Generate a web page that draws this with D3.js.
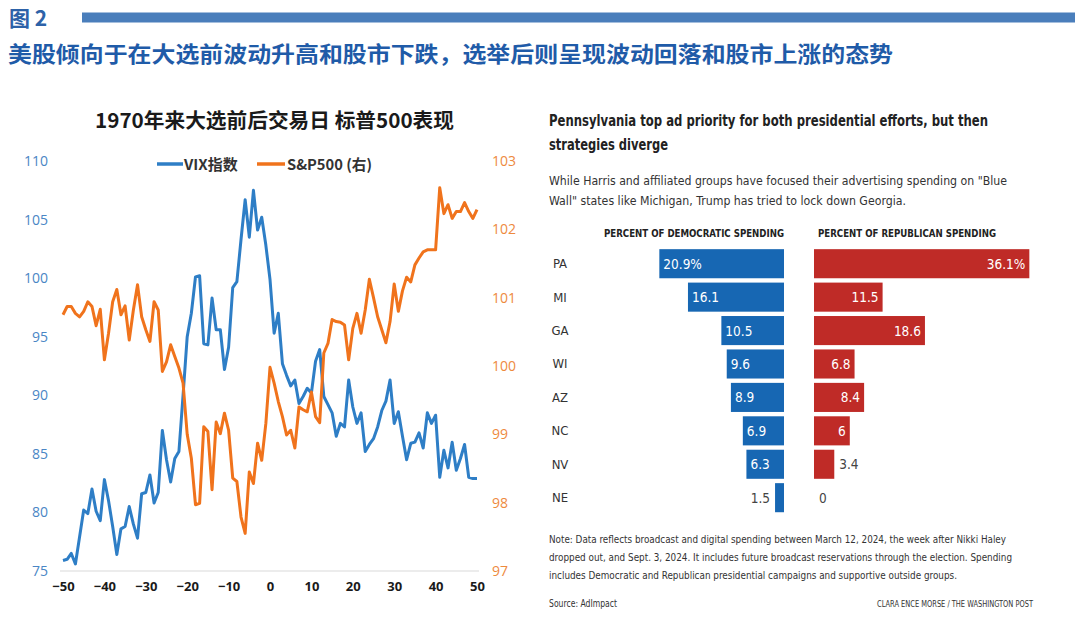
<!DOCTYPE html>
<html>
<head>
<meta charset="utf-8">
<script src="https://cdn.jsdelivr.net/npm/d3@7"></script>
<style>
  html, body { margin: 0; padding: 0; background: #fff; }
  svg { display: block; }
</style>
</head>
<body>
<script>
// ---------------- DATA ----------------
const days = d3.range(-50, 51);
const vix = [
  75.9, 76.0, 76.5, 75.6, 77.9, 80.2, 79.9, 82.0, 80.1, 79.3,
  82.8, 81.0, 78.8, 76.4, 78.6, 78.8, 80.5, 79.0, 77.8, 81.6,
  81.7, 83.2, 80.8, 81.7, 87.0, 84.5, 82.6, 84.6, 85.2, 90.0,
  95.0, 97.0, 100.1, 100.2, 94.4, 94.3, 98.3, 95.6, 95.6, 92.2,
  94.1, 99.2, 99.7, 103.3, 106.7, 103.5, 107.5, 104.1, 105.2, 102.8,
  99.9,
  95.3, 97.0, 92.7, 91.7, 90.8, 91.3, 89.3, 89.9, 90.6, 90.2,
  92.9, 93.9, 89.9, 89.2, 88.5, 86.5, 87.6, 87.3, 91.3, 89.0,
  87.6, 88.5, 85.2, 85.8, 86.3, 87.3, 88.7, 89.5, 91.3, 87.6,
  88.6, 86.5, 84.5, 85.9, 86.0, 86.8, 85.5, 88.5, 87.6, 88.3,
  83.0, 85.3, 83.8, 86.0, 83.6, 84.6, 85.8, 83.0, 82.9, 82.9
];
const spx = [
  100.75, 100.87, 100.87, 100.77, 100.72, 100.80, 100.94, 100.87, 100.59, 100.83,
  100.09, 100.48, 100.94, 101.12, 100.75, 100.88, 100.38, 100.82, 101.19, 100.72,
  100.53, 100.36, 100.94, 100.82, 99.92, 100.06, 100.31, 100.14, 99.97, 99.75,
  99.00, 98.65, 97.97, 97.99, 99.11, 99.04, 98.19, 99.18, 99.01, 99.31,
  99.06, 98.36, 98.31, 97.79, 97.55, 98.45, 98.28, 98.87, 98.62, 99.16,
  99.98,
  99.75, 99.48, 99.26, 98.99, 99.06, 98.80, 99.40, 99.36, 99.33, 99.62,
  99.26, 99.17, 100.19, 100.33, 100.68, 100.65, 100.64, 100.60, 100.09, 100.55,
  100.77, 100.48, 100.82, 101.27, 101.00, 100.72, 100.53, 100.34, 100.65, 101.20,
  100.80, 101.10, 101.30, 101.23, 101.48, 101.58, 101.67, 101.70, 101.70, 101.70,
  102.61, 102.23, 102.36, 102.16, 102.26, 102.26, 102.39, 102.26, 102.16, 102.29
];
const xTicks = [-50, -40, -30, -20, -10, 0, 10, 20, 30, 40, 50];
const leftTicks = [75, 80, 85, 90, 95, 100, 105, 110];
const rightTicks = [97, 98, 99, 100, 101, 102, 103];
const seriesNames = ["VIX指数", "S&P500 (右)"];

const states = ["PA", "MI", "GA", "WI", "AZ", "NC", "NV", "NE"];
const demValues = [20.9, 16.1, 10.5, 9.6, 8.9, 6.9, 6.3, 1.5];
const repValues = [36.1, 11.5, 18.6, 6.8, 8.4, 6, 3.4, 0];
const demLabels = ["20.9%", "16.1", "10.5", "9.6", "8.9", "6.9", "6.3", "1.5"];
const repLabels = ["36.1%", "11.5", "18.6", "6.8", "8.4", "6", "3.4", "0"];

// ---------------- SETUP ----------------
const W = 1080, H = 622;
const svg = d3.select("body").append("svg").attr("width", W).attr("height", H);
svg.append("rect").attr("width", W).attr("height", H).attr("fill", "#fff");

const cjk = "'Noto Sans CJK SC', 'Noto Sans', sans-serif";
const narrow = "'Liberation Sans Narrow', 'DejaVu Sans Condensed', 'Roboto', sans-serif";

// fit a text to a target width: shrink font a little, then squeeze the rest
function fit(t, target, size) {
  const w = t.node().getComputedTextLength();
  if (w > target * 1.02) {
    const ns = Math.max(size * target / w, size * 0.88);
    t.attr("font-size", ns);
    const w2 = t.node().getComputedTextLength();
    if (w2 > target * 1.02) t.attr("textLength", target).attr("lengthAdjust", "spacingAndGlyphs");
  } else if (w < target * 0.95) {
    t.attr("font-size", Math.min(size * target / w, size * 1.08));
  }
  return t;
}

// ---------------- HEADER ----------------
svg.append("text").attr("x", 9).attr("y", 25.5)
  .attr("font-family", cjk).attr("font-weight", 700).attr("font-size", 21)
  .attr("fill", "#2d62a8").text("图 2");
svg.append("rect").attr("x", 82).attr("y", 12.5).attr("width", 993).attr("height", 10)
  .attr("fill", "#4a7ebb");
svg.append("text").attr("x", 8).attr("y", 62)
  .attr("font-family", cjk).attr("font-weight", 700).attr("font-size", 21.5)
  .attr("fill", "#1f5ba8")
  .attr("textLength", 885).attr("lengthAdjust", "spacingAndGlyphs")
  .text("美股倾向于在大选前波动升高和股市下跌，选举后则呈现波动回落和股市上涨的态势");

// ---------------- LEFT CHART ----------------
const x = d3.scaleLinear().domain([-50, 50]).range([63, 477]);
const yL = d3.scaleLinear().domain([75, 110]).range([571, 161]);
const yR = d3.scaleLinear().domain([97, 103]).range([571, 161]);

svg.append("text").attr("x", 274.5).attr("y", 128).attr("text-anchor", "middle")
  .attr("font-family", cjk).attr("font-weight", 700).attr("font-size", 20.5)
  .attr("fill", "#1a1a1a")
  .attr("textLength", 359).attr("lengthAdjust", "spacingAndGlyphs")
  .text("1970年来大选前后交易日 标普500表现");

// baseline
svg.append("line").attr("x1", 60).attr("x2", 479).attr("y1", yL(75)).attr("y2", yL(75))
  .attr("stroke", "#d9d9d9").attr("stroke-width", 1.2);

const gL = svg.append("g").attr("transform", `translate(${x(-50)},0)`)
  .call(d3.axisLeft(yL).tickValues(leftTicks).tickSize(0).tickPadding(15).tickFormat(d3.format("d")));
gL.select(".domain").remove();
gL.selectAll("text").attr("font-family", "'Open Sans', 'Noto Sans', sans-serif")
  .attr("font-size", 14).attr("fill", "#4a86c5");

const gR = svg.append("g").attr("transform", `translate(${x(50)},0)`)
  .call(d3.axisRight(yR).tickValues(rightTicks).tickSize(0).tickPadding(15).tickFormat(d3.format("d")));
gR.select(".domain").remove();
gR.selectAll("text").attr("font-family", "'Open Sans', 'Noto Sans', sans-serif")
  .attr("font-size", 14).attr("fill", "#ee8a3e");

const gB = svg.append("g").attr("transform", `translate(0,${yL(75)})`)
  .call(d3.axisBottom(x).tickValues(xTicks).tickSize(0).tickPadding(11).tickFormat(d3.format("d")));
gB.select(".domain").remove();
gB.selectAll("text").attr("font-family", "'Open Sans', 'Noto Sans', sans-serif")
  .attr("font-size", 13).attr("font-weight", 700).attr("fill", "#1a1a1a");

const lineV = d3.line().x((d, i) => x(days[i])).y(d => yL(d));
const lineS = d3.line().x((d, i) => x(days[i])).y(d => yR(d));
svg.append("path").datum(vix).attr("d", lineV).attr("fill", "none")
  .attr("stroke", "#2e7ec6").attr("stroke-width", 3).attr("stroke-linejoin", "round");
svg.append("path").datum(spx).attr("d", lineS).attr("fill", "none")
  .attr("stroke", "#f0731c").attr("stroke-width", 3).attr("stroke-linejoin", "round");

// legend
const legend = [
  { name: seriesNames[0], color: "#2e7ec6", x1: 157, x2: 183, tx: 184, tl: 56 },
  { name: seriesNames[1], color: "#f0731c", x1: 257, x2: 285, tx: 287, tl: 85 }
];
legend.forEach(l => {
  svg.append("line").attr("x1", l.x1).attr("x2", l.x2).attr("y1", 164).attr("y2", 164)
    .attr("stroke", l.color).attr("stroke-width", 3.5);
  fit(svg.append("text").attr("x", l.tx).attr("y", 169.5)
    .attr("font-family", cjk).attr("font-weight", 700).attr("font-size", 15)
    .attr("fill", "#333").text(l.name), l.tl, 15);
});

// ---------------- RIGHT CHART ----------------
function txt(xp, yp, s, size, weight, color, len, anchor) {
  const t = svg.append("text").attr("x", xp).attr("y", yp)
    .attr("font-family", narrow).attr("font-size", size).attr("font-weight", weight)
    .attr("fill", color).text(s);
  if (anchor) t.attr("text-anchor", anchor);
  if (len) fit(t, len, size);
  return t;
}
txt(549, 126, "Pennsylvania top ad priority for both presidential efforts, but then", 17.5, 700, "#222", 439);
txt(549, 150, "strategies diverge", 17.5, 700, "#222", 119);
txt(549, 185, "While Harris and affiliated groups have focused their advertising spending on \"Blue", 14.5, 400, "#333", 458);
txt(549, 205, "Wall\" states like Michigan, Trump has tried to lock down Georgia.", 14.5, 400, "#333", 357);
txt(604, 237, "PERCENT OF DEMOCRATIC SPENDING", 12, 700, "#222", 180);
txt(818, 237, "PERCENT OF REPUBLICAN SPENDING", 12, 700, "#222", 178);

const zeroD = 784, zeroR = 814;
const xs = d3.scaleLinear().domain([0, 40]).range([0, 238.6]);
const yb = d3.scaleBand().domain(states).range([247, 514.4]).paddingInner(0.13).paddingOuter(0.065);

const rows = svg.append("g").selectAll("g").data(states).join("g");
rows.append("text").attr("x", 560).attr("y", s => yb(s) + yb.bandwidth() / 2 + 4.5)
  .attr("text-anchor", "middle").attr("font-family", narrow).attr("font-size", 13)
  .attr("fill", "#333").text(s => s);
rows.append("rect").attr("x", (s, i) => zeroD - xs(demValues[i])).attr("y", s => yb(s))
  .attr("width", (s, i) => xs(demValues[i])).attr("height", yb.bandwidth())
  .attr("fill", "#1767b3");
rows.append("rect").attr("x", zeroR).attr("y", s => yb(s))
  .attr("width", (s, i) => xs(repValues[i])).attr("height", yb.bandwidth())
  .attr("fill", "#bf2b27");
rows.append("text")
  .attr("x", (s, i) => demValues[i] >= 5 ? zeroD - xs(demValues[i]) + 4 : zeroD - xs(demValues[i]) - 5)
  .attr("y", s => yb(s) + yb.bandwidth() / 2 + 5)
  .attr("text-anchor", (s, i) => demValues[i] >= 5 ? "start" : "end")
  .attr("font-family", narrow).attr("font-size", 13.5)
  .attr("fill", (s, i) => demValues[i] >= 5 ? "#fff" : "#444")
  .text((s, i) => demLabels[i]);
rows.append("text")
  .attr("x", (s, i) => repValues[i] >= 5 ? zeroR + xs(repValues[i]) - 4 : zeroR + xs(repValues[i]) + 5)
  .attr("y", s => yb(s) + yb.bandwidth() / 2 + 5)
  .attr("text-anchor", (s, i) => repValues[i] >= 5 ? "end" : "start")
  .attr("font-family", narrow).attr("font-size", 13.5)
  .attr("fill", (s, i) => repValues[i] >= 5 ? "#fff" : "#444")
  .text((s, i) => repLabels[i]);

txt(549, 543, "Note: Data reflects broadcast and digital spending between March 12, 2024, the week after Nikki Haley", 12.5, 400, "#333", 457);
txt(549, 561, "dropped out, and Sept. 3, 2024. It includes future broadcast reservations through the election. Spending", 12.5, 400, "#333", 463);
txt(549, 579, "includes Democratic and Republican presidential campaigns and supportive outside groups.", 12.5, 400, "#333", 408);
txt(549, 607, "Source: AdImpact", 11.5, 400, "#333", 68);
txt(1033, 607, "CLARA ENCE MORSE / THE WASHINGTON POST", 10.5, 400, "#333", 156, "end");
</script>
</body>
</html>
